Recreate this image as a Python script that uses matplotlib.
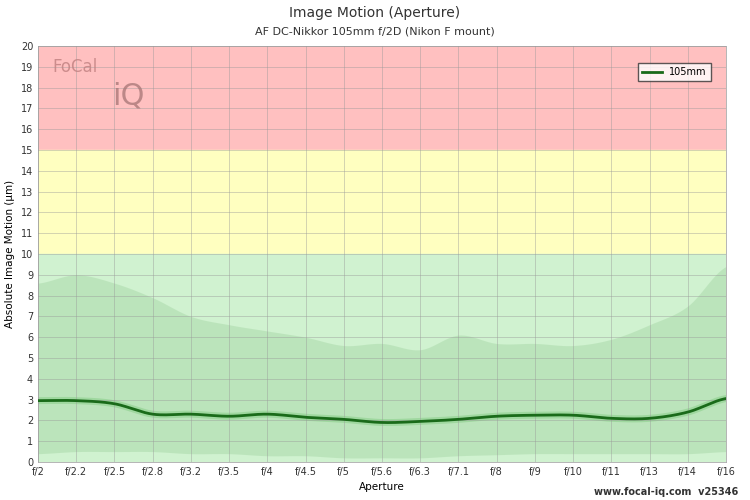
import numpy as np
import matplotlib
matplotlib.use("Agg")
import matplotlib.pyplot as plt

apertures = ["f/2","f/2.2","f/2.5","f/2.8","f/3.2","f/3.5","f/4","f/4.5","f/5","f/5.6",
             "f/6.3","f/7.1","f/8","f/9","f/10","f/11","f/13","f/14","f/16"]
motion = [2.95,2.95,2.8,2.3,2.3,2.2,2.3,2.15,2.05,1.9,1.95,2.05,2.2,2.25,2.25,2.1,2.1,2.4,3.05]
upper = [8.6,9.0,8.6,7.9,7.0,6.6,6.3,6.0,5.6,5.7,5.4,6.1,5.7,5.7,5.6,5.9,6.6,7.5,9.4]
lower = [0.4,0.5,0.5,0.5,0.4,0.4,0.3,0.3,0.2,0.2,0.2,0.3,0.35,0.4,0.4,0.4,0.4,0.4,0.5]

def smooth(y, n=20):
    y = np.asarray(y, float)
    p = np.concatenate([[y[0]], y, [y[-1]]])
    xs, ys = [], []
    for i in range(len(y) - 1):
        p0, p1, p2, p3 = p[i], p[i+1], p[i+2], p[i+3]
        t = np.linspace(0, 1, n, endpoint=False)
        ys.append(0.5*((2*p1) + (-p0+p2)*t + (2*p0-5*p1+4*p2-p3)*t**2 + (-p0+3*p1-3*p2+p3)*t**3))
        xs.append(i + t)
    xs.append([len(y)-1]); ys.append([y[-1]])
    return np.concatenate(xs), np.concatenate(ys)

fig = plt.figure(figsize=(7.5, 5), dpi=100)
ax = fig.add_axes([38/750, 38/500, 688/750, 416/500])
n = len(apertures)
ax.axhspan(15, 20, color="#ffc0c0", zorder=0)
ax.axhspan(10, 15, color="#ffffc0", zorder=0)
ax.axhspan(0, 10, color="#d0f2d0", zorder=0)

xs, yu = smooth(upper)
_, yl = smooth(lower)
_, ym = smooth(motion)
ax.fill_between(xs, yl, yu, color="#a8d8a8", alpha=0.5, lw=0, zorder=1)
ax.plot(xs, ym, color="#9fd89f", lw=5, zorder=2)
ax.plot(xs, ym, color="#1a6b1a", lw=2, zorder=3, label="105mm")

ax.set_xlim(0, n-1)
ax.set_ylim(0, 20)
ax.set_xticks(range(n))
ax.set_xticklabels(apertures)
ax.set_yticks(range(0, 21))
ax.grid(True, color="#999999", lw=0.5, alpha=0.6, zorder=1)
ax.set_axisbelow(False)
ax.tick_params(labelsize=7, colors="#333333", length=0)
for s in ax.spines.values():
    s.set_color("#aaaaaa"); s.set_linewidth(0.6)
ax.set_xlabel("Aperture", fontsize=7.5)
ax.set_ylabel("Absolute Image Motion (µm)", fontsize=7.5)
fig.text(0.5, 0.965, "Image Motion (Aperture)", ha="center", fontsize=10, color="#333333")
fig.text(0.5, 0.932, "AF DC-Nikkor 105mm f/2D (Nikon F mount)", ha="center", fontsize=8, color="#333333")
leg = ax.legend(loc="upper right", bbox_to_anchor=(0.985, 0.97), fontsize=7, frameon=True,
                fancybox=False, edgecolor="#333333", handlelength=2)
leg.get_frame().set_facecolor("white")
fig.text(0.07, 0.855, "FoCal", fontsize=12, color="#c08080", alpha=0.8)
fig.text(0.15, 0.79, "iQ", fontsize=22, color="#a07070", alpha=0.7)
fig.text(0.985, 0.01, "www.focal-iq.com  v25346", ha="right", fontsize=7, color="#333333", fontweight="bold")
fig.savefig("out.png", dpi=100)
